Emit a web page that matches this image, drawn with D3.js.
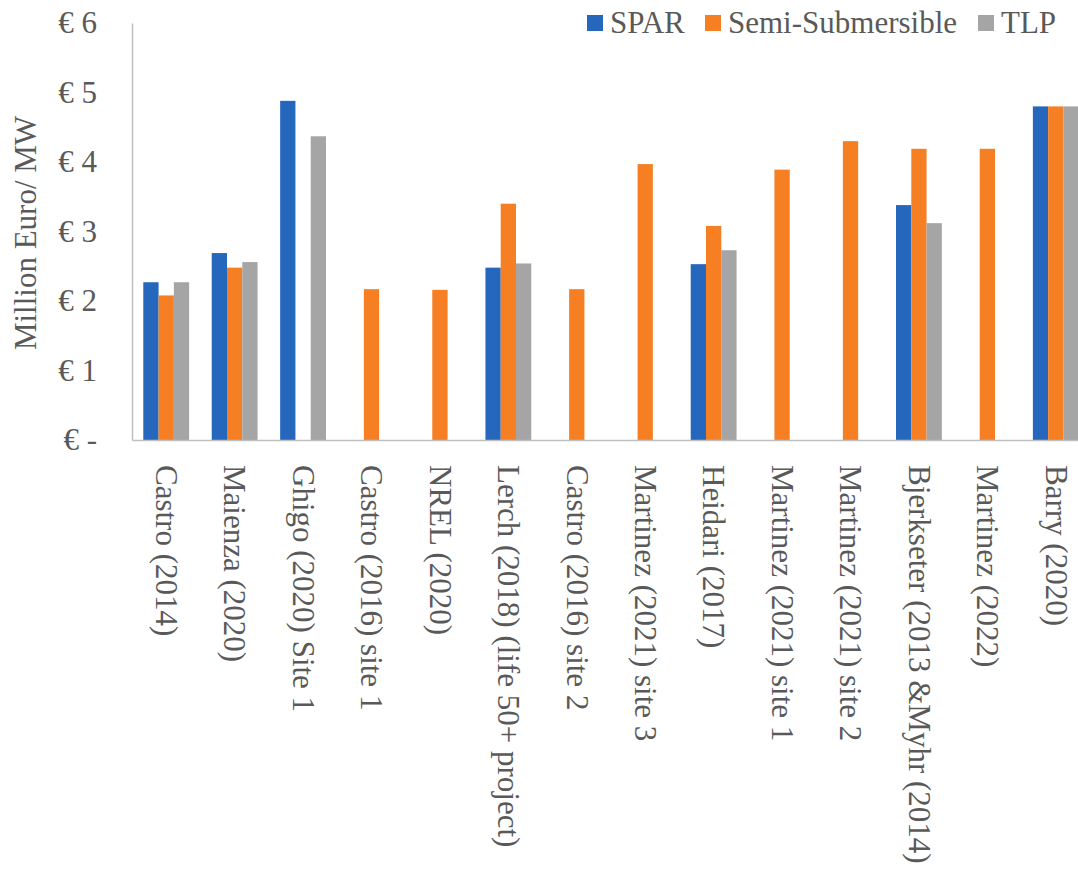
<!DOCTYPE html>
<html>
<head>
<meta charset="utf-8">
<script src="https://cdn.jsdelivr.net/npm/d3@7"></script>
<style>
body { margin: 0; background: #fff; }
text { font-family: "Liberation Serif", "Times New Roman", serif; fill: #595959; }
</style>
</head>
<body>
<div id="chart"></div>
<script>
// chart data
var categories = ["Castro (2014)", "Maienza (2020)", "Ghigo (2020) Site 1", "Castro (2016) site 1",
    "NREL (2020)", "Lerch (2018) (life 50+ project)", "Castro (2016) site 2", "Martinez (2021) site 3",
    "Heidari (2017)", "Martinez (2021) site 1", "Martinez (2021) site 2", "Bjerkseter (2013 &Myhr (2014)",
    "Martinez (2022)", "Barry (2020)"];
var seriesNames = ["SPAR", "Semi-Submersible", "TLP"];
var spar = [2.27, 2.69, 4.88, null, null, 2.48, null, null, 2.53, null, null, 3.38, null, 4.80];
var semi = [2.08, 2.48, null, 2.17, 2.16, 3.40, 2.17, 3.97, 3.08, 3.89, 4.30, 4.19, 4.19, 4.80];
var tlp = [2.27, 2.56, 4.37, null, null, 2.54, null, null, 2.73, null, null, 3.12, null, 4.80];
var yTicks = [0, 1, 2, 3, 4, 5, 6];

var colors = ["#2667be", "#f57f22", "#a5a5a5"];

var svgWidth = 1078;
var svgHeight = 873;

var svg = d3.select("#chart")
    .append("svg")
    .attr("width", svgWidth)
    .attr("height", svgHeight);

// plot area (runs a bit past the right edge, like the reference)
var plotLeft = 132, plotRight = 1090, plotTop = 23, plotBottom = 440;

var x0 = d3.scaleBand()
    .domain(categories)
    .range([plotLeft, plotRight])
    .padding(0);

var bw = x0.bandwidth();
var x1 = d3.scaleBand()
    .domain(seriesNames)
    .range([bw * 0.165, bw * 0.835])
    .padding(0);

var y = d3.scaleLinear()
    .domain([0, 6])
    .range([plotBottom, plotTop]);

// build rows from the arrays
var rows = categories.map(function(c, i) {
    return { cat: c, vals: [spar[i], semi[i], tlp[i]] };
});

// bars
var groups = svg.selectAll("g.cat")
    .data(rows)
    .enter()
    .append("g")
    .attr("class", "cat")
    .attr("transform", d => `translate(${x0(d.cat)},0)`);

groups.selectAll("rect")
    .data(d => d.vals.map((v, j) => ({ name: seriesNames[j], value: v, idx: j })).filter(e => e.value !== null))
    .enter()
    .append("rect")
    .attr("x", d => x1(d.name))
    .attr("y", d => y(d.value))
    .attr("width", x1.bandwidth())
    .attr("height", d => plotBottom - y(d.value))
    .attr("fill", d => colors[d.idx]);

// y axis
var leftAxis = d3.axisLeft(y)
    .tickValues(yTicks)
    .tickSize(0)
    .tickPadding(35)
    .tickFormat(d => d === 0 ? "€ -" : "€ " + d);

var yAxis = svg.append("g")
    .attr("transform", `translate(${plotLeft},0)`)
    .call(leftAxis);

yAxis.select(".domain").attr("stroke", "#bfbfbf").attr("stroke-width", 1.5);
yAxis.selectAll("text")
    .style("font-size", "31px")
    .style("font-family", "'Liberation Serif', serif")
    .attr("fill", "#595959");

// x axis
var bottomAxis = d3.axisBottom(x0)
    .tickSize(0)
    .tickSizeOuter(0);

var xAxis = svg.append("g")
    .attr("transform", `translate(0,${plotBottom})`)
    .call(bottomAxis);

xAxis.select(".domain").attr("stroke", "#bfbfbf").attr("stroke-width", 1.5);
xAxis.selectAll("text")
    .style("font-size", "31px")
    .style("font-family", "'Liberation Serif', serif")
    .attr("fill", "#595959")
    .attr("text-anchor", "start")
    .attr("transform", "rotate(90)")
    .attr("x", 25)
    .attr("y", 0)
    .attr("dy", "0.33em");

// y label
svg.append("text")
    .attr("transform", "translate(36,233) rotate(-90)")
    .attr("text-anchor", "middle")
    .style("font-size", "31px")
    .text("Million Euro/ MW");

// legend
var legendX = [587, 705, 978];
var legend = svg.append("g");
seriesNames.forEach(function(name, j) {
    legend.append("rect")
        .attr("x", legendX[j])
        .attr("y", 15)
        .attr("width", 16)
        .attr("height", 16)
        .attr("fill", colors[j]);
    legend.append("text")
        .attr("x", legendX[j] + 23)
        .attr("y", 33)
        .style("font-size", "31px")
        .text(name);
});
</script>
</body>
</html>
